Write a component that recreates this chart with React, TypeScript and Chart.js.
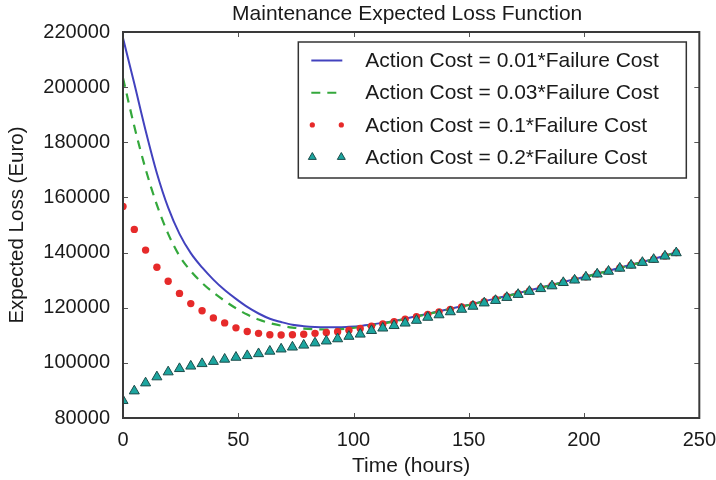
import { useEffect, useRef } from 'react';
import { Chart, registerables } from 'chart.js';

Chart.register(...registerables);

const chartTitle = 'Maintenance Expected Loss Function';
const xAxisTitle = 'Time (hours)';
const yAxisTitle = 'Expected Loss (Euro)';

const seriesLabels = [
  'Action Cost = 0.01*Failure Cost',
  'Action Cost = 0.03*Failure Cost',
  'Action Cost = 0.1*Failure Cost',
  'Action Cost = 0.2*Failure Cost',
];

const hours = [
  0, 4.9, 9.8, 14.7, 19.6, 24.5, 29.4, 34.3, 39.2, 44.1,
  49.0, 53.9, 58.8, 63.7, 68.6, 73.5, 78.4, 83.3, 88.2, 93.1,
  98.0, 102.9, 107.8, 112.7, 117.6, 122.4, 127.3, 132.2, 137.1, 142.0,
  146.9, 151.8, 156.7, 161.6, 166.5, 171.4, 176.3, 181.2, 186.1, 191.0,
  195.9, 200.8, 205.7, 210.6, 215.5, 220.4, 225.3, 230.2, 235.1, 240.0,
];

const cost001 = [
  217800, 201300, 184300, 168800, 156300, 146800, 139800, 134600, 130200, 126400,
  123200, 120300, 117900, 116000, 114800, 113800, 113300, 113000, 112900, 112900,
  113100, 113400, 113900, 114500, 115200, 116000, 116900, 117800, 118700, 119600,
  120500, 121400, 122400, 123300, 124300, 125300, 126300, 127300, 128300, 129300,
  130300, 131300, 132400, 133400, 134500, 135600, 136600, 137700, 138900, 140100,
];

const cost003 = [
  203300, 185800, 170300, 157300, 146800, 138800, 133300, 129000, 125500, 122500,
  119800, 117500, 115700, 114400, 113500, 112800, 112400, 112200, 112100, 112200,
  112500, 113000, 113600, 114300, 115000, 115900, 116800, 117700, 118600, 119500,
  120400, 121300, 122300, 123200, 124200, 125200, 126200, 127200, 128200, 129200,
  130200, 131200, 132300, 133300, 134400, 135500, 136500, 137600, 138800, 140000,
];

const cost01 = [
  156700, 148400, 140900, 134700, 129600, 125200, 121500, 118900, 116300, 114500,
  112700, 111400, 110700, 110200, 110100, 110200, 110400, 110700, 111000, 111300,
  111800, 112500, 113300, 114100, 114900, 115800, 116700, 117600, 118500, 119400,
  120300, 121200, 122200, 123100, 124100, 125100, 126100, 127100, 128100, 129200,
  130200, 131200, 132300, 133300, 134400, 135500, 136500, 137600, 138800, 140000,
];

const cost02 = [
  86300, 89800, 92700, 94900, 96700, 97900, 98800, 99700, 100500, 101300,
  102000, 102600, 103300, 104200, 105000, 105700, 106400, 107200, 107900, 108700,
  109600, 110400, 111700, 112600, 113500, 114400, 115400, 116500, 117400, 118500,
  119400, 120500, 121700, 122600, 123700, 124800, 125900, 126900, 127900, 129100,
  130000, 131100, 132200, 133200, 134300, 135400, 136400, 137500, 138700, 139900,
];

const xMin = 0;
const xMax = 250;
const xStep = 50;
const yMin = 80000;
const yMax = 220000;
const yStep = 20000;

const FONT = '"Liberation Sans", Arial, Helvetica, sans-serif';
const TEXT = '#1a1a1a';
const BLUE = '#4242BE';
const GREEN = '#34A83C';
const RED = '#E62A2A';
const TEAL = '#1CA59F';
const TEAL_EDGE = '#1D4C4A';

const toPoints = (ys: number[]) => hours.map((h, i) => ({ x: h, y: ys[i] }));

function drawTriangle(ctx: CanvasRenderingContext2D, x: number, y: number, r: number) {
  ctx.beginPath();
  ctx.moveTo(x, y - r);
  ctx.lineTo(x + r * 0.866, y + r * 0.5);
  ctx.lineTo(x - r * 0.866, y + r * 0.5);
  ctx.closePath();
  ctx.fillStyle = TEAL;
  ctx.fill();
  ctx.strokeStyle = TEAL_EDGE;
  ctx.lineWidth = 1;
  ctx.stroke();
}

const framePlugin = {
  id: 'frame',
  afterDatasetsDraw(chart: any) {
    const { ctx, chartArea: a, scales } = chart;
    ctx.save();
    ctx.strokeStyle = '#555';
    ctx.lineWidth = 1;
    const tl = 5;
    scales.x.ticks.forEach((t: any) => {
      const px = Math.round(scales.x.getPixelForValue(t.value)) + 0.5;
      ctx.beginPath();
      ctx.moveTo(px, a.bottom);
      ctx.lineTo(px, a.bottom - tl);
      ctx.moveTo(px, a.top);
      ctx.lineTo(px, a.top + tl);
      ctx.stroke();
    });
    scales.y.ticks.forEach((t: any) => {
      const py = Math.round(scales.y.getPixelForValue(t.value)) + 0.5;
      ctx.beginPath();
      ctx.moveTo(a.left, py);
      ctx.lineTo(a.left + tl, py);
      ctx.moveTo(a.right, py);
      ctx.lineTo(a.right - tl, py);
      ctx.stroke();
    });
    ctx.strokeStyle = '#3a3a3a';
    ctx.lineWidth = 2;
    ctx.strokeRect(a.left, a.top, a.right - a.left, a.bottom - a.top);
    ctx.restore();
  },
  afterDraw(chart: any) {
    const { ctx, chartArea: a } = chart;
    ctx.save();
    // title
    ctx.fillStyle = TEXT;
    ctx.font = `21px ${FONT}`;
    ctx.textAlign = 'center';
    ctx.textBaseline = 'middle';
    ctx.fillText(chartTitle, (a.left + a.right) / 2 - 4, a.top - 17.5);

    // legend
    const w = 388;
    const h = 136;
    const left = a.right - 13 - w;
    const top = a.top + 10;
    ctx.fillStyle = '#ffffff';
    ctx.fillRect(left, top, w, h);
    ctx.strokeStyle = '#333';
    ctx.lineWidth = 1.5;
    ctx.strokeRect(left, top, w, h);

    const rowY = (i: number) => top + 18.5 + i * 32.2;
    const s0 = left + 13;
    const s1 = left + 44;
    ctx.strokeStyle = BLUE;
    ctx.lineWidth = 2;
    ctx.beginPath();
    ctx.moveTo(s0, rowY(0));
    ctx.lineTo(s1, rowY(0));
    ctx.stroke();
    ctx.strokeStyle = GREEN;
    ctx.setLineDash([9, 7]);
    ctx.beginPath();
    ctx.moveTo(s0, rowY(1));
    ctx.lineTo(s1 + 1, rowY(1));
    ctx.stroke();
    ctx.setLineDash([]);
    ctx.fillStyle = RED;
    [s0 + 1, s1 - 1].forEach((x) => {
      ctx.beginPath();
      ctx.arc(x, rowY(2), 2.6, 0, Math.PI * 2);
      ctx.fill();
    });
    [s0 + 1, s1 - 1].forEach((x) => drawTriangle(ctx, x, rowY(3), 4.6));

    ctx.fillStyle = TEXT;
    ctx.font = `21px ${FONT}`;
    ctx.textAlign = 'left';
    ctx.textBaseline = 'middle';
    seriesLabels.forEach((lab, i) => ctx.fillText(lab, left + 67, rowY(i) + 1));
    ctx.restore();
  },
};

export default function App() {
  const ref = useRef<HTMLCanvasElement | null>(null);

  useEffect(() => {
    document.body.style.margin = '0';
    const canvas = ref.current;
    if (!canvas) return;
    const chart = new Chart(canvas, {
      type: 'line',
      data: {
        datasets: [
          {
            label: seriesLabels[0],
            data: toPoints(cost001),
            borderColor: BLUE,
            borderWidth: 2,
            pointRadius: 0,
            cubicInterpolationMode: 'monotone',
            fill: false,
            order: 4,
          },
          {
            label: seriesLabels[1],
            data: toPoints(cost003),
            borderColor: GREEN,
            borderWidth: 2.2,
            borderDash: [9, 7],
            pointRadius: 0,
            cubicInterpolationMode: 'monotone',
            fill: false,
            order: 3,
          },
          {
            label: seriesLabels[2],
            data: toPoints(cost01),
            showLine: false,
            pointRadius: 3.7,
            pointBackgroundColor: RED,
            pointBorderWidth: 0,
            borderColor: RED,
            order: 2,
          },
          {
            label: seriesLabels[3],
            data: toPoints(cost02),
            showLine: false,
            pointStyle: 'triangle',
            pointRadius: 5.8,
            pointBackgroundColor: TEAL,
            pointBorderColor: TEAL_EDGE,
            pointBorderWidth: 1,
            borderColor: TEAL,
            order: 1,
          },
        ],
      },
      options: {
        animation: false,
        responsive: false,
        devicePixelRatio: 1,
        layout: { padding: { top: 32, right: 16, left: 0, bottom: 0 } },
        plugins: {
          legend: { display: false },
          tooltip: { enabled: false },
          title: { display: false },
        },
        scales: {
          x: {
            type: 'linear',
            min: xMin,
            max: xMax,
            grid: { display: false, drawTicks: false },
            border: { display: false },
            ticks: {
              stepSize: xStep,
              color: TEXT,
              font: { family: FONT, size: 20, lineHeight: 2.25 },
              padding: 0,
              maxRotation: 0,
              autoSkip: false,
              callback: (v: any) => String(v),
            },
            title: {
              display: true,
              text: xAxisTitle,
              color: TEXT,
              font: { family: FONT, size: 21 },
              padding: { top: 0, bottom: 1 },
            },
            afterFit: (s: any) => {
              s.height = 62;
            },
          },
          y: {
            type: 'linear',
            min: yMin,
            max: yMax,
            grid: { display: false, drawTicks: false },
            border: { display: false },
            ticks: {
              stepSize: yStep,
              color: TEXT,
              font: { family: FONT, size: 20 },
              padding: 13,
              autoSkip: false,
              callback: (v: any) => String(v),
            },
            title: {
              display: true,
              text: yAxisTitle,
              color: TEXT,
              font: { family: FONT, size: 20.5 },
              padding: { top: 5, bottom: 0 },
            },
            afterFit: (s: any) => {
              s.width = 123;
            },
          },
        },
      },
      plugins: [framePlugin],
    } as any);
    return () => chart.destroy();
  }, []);

  return (
    <div style={{ position: 'fixed', left: 0, top: 0, width: 716, height: 480, background: '#fff' }}>
      <canvas ref={ref} width={716} height={480} />
    </div>
  );
}
